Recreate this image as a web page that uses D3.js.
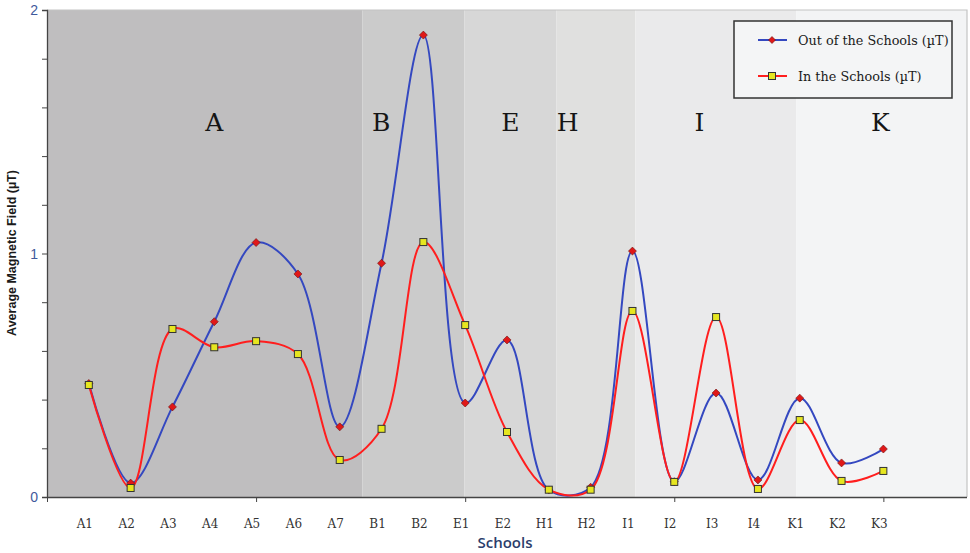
<!DOCTYPE html>
<html><head><meta charset="utf-8">
<script src="https://cdn.jsdelivr.net/npm/d3@7"></script>
<style>body{margin:0;background:#fff}svg{display:block}</style>
</head><body>
<svg id="c" width="970" height="553"></svg>
<script>
const categories = ["A1","A2","A3","A4","A5","A6","A7","B1","B2","E1","E2","H1","H2","I1","I2","I3","I4","K1","K2","K3"];
const outValues = [0.466,0.057,0.37,0.72,1.045,0.916,0.288,0.96,1.897,0.386,0.645,0.029,0.04,1.01,0.063,0.427,0.07,0.406,0.14,0.197];
const inValues  = [0.46,0.037,0.69,0.615,0.64,0.587,0.152,0.28,1.047,0.706,0.267,0.03,0.03,0.764,0.062,0.739,0.033,0.316,0.066,0.107];
const groupNames = ["A","B","E","H","I","K"];
const groupStart = [0,7.54,9.98,12.18,14.07,17.92];
const groupEnd   = [7.54,9.98,12.18,14.07,17.92,22];
const groupLabelPos = [4,7.99,11.08,12.45,15.6,19.93];
const groupColors = ["#bfbebf","#cbcbcb","#d7d7d7","#e0e0df","#eaeaeb","#f3f4f5"];
const seriesNames = ["Out of the Schools (µT)","In the Schools (µT)"];
const yTickLabels = [0,1,2];

const svg = d3.select("#c");
const L=47,R=967,T=10,B=497;
const x = d3.scaleLinear().domain([0,22]).range([L,R]);
const y = d3.scaleLinear().domain([0,2]).range([B,T]);

svg.selectAll("rect.band").data(groupNames).enter().append("rect")
  .attr("x",(d,i)=>x(groupStart[i])).attr("y",T)
  .attr("width",(d,i)=>x(groupEnd[i])-x(groupStart[i])).attr("height",B-T)
  .attr("fill",(d,i)=>groupColors[i]);
svg.append("path").attr("d",`M${L},${T}H${R}V${B}`).attr("fill","none").attr("stroke","#c4c4c4").attr("stroke-width",1.2);

svg.selectAll("text.grp").data(groupNames).enter().append("text")
  .attr("x",(d,i)=>x(groupLabelPos[i])).attr("y",131)
  .attr("text-anchor","middle").attr("font-family","'DejaVu Serif', serif").attr("font-size",25)
  .attr("fill","#151515").text(d=>d);

const yAxis = d3.axisLeft(y).tickValues(d3.range(0,2.01,0.2)).tickSize(5).tickFormat(d=>"");
const gy = svg.append("g").attr("transform",`translate(${L},0)`).call(yAxis);
gy.select(".domain").attr("stroke","#444").attr("stroke-width",1.3);
gy.selectAll(".tick line").attr("stroke","#444");
svg.selectAll("text.ytl").data(yTickLabels).enter().append("text")
  .attr("x",38).attr("y",d=>y(d)+5).attr("text-anchor","end")
  .attr("font-family","'Liberation Sans', Arial, sans-serif").attr("font-size",14)
  .attr("fill","#3f5a9c").text(d=>d);

const xAxis = d3.axisBottom(x).tickValues([0,5,10,15,20]).tickSize(5).tickFormat(d=>"");
const gx = svg.append("g").attr("transform",`translate(0,${B})`).call(xAxis);
gx.select(".domain").attr("stroke","#444").attr("stroke-width",1.3).attr("d",`M${L},0.5H${R}`);
gx.selectAll(".tick line").attr("stroke","#444");

svg.selectAll("text.cat").data(categories).enter().append("text")
  .attr("x",(d,i)=>x(i+1)-4).attr("y",528).attr("text-anchor","middle")
  .attr("font-family","'DejaVu Serif', serif").attr("font-size",12)
  .attr("fill","#333").text(d=>d);

svg.append("text").attr("x",505).attr("y",548).attr("text-anchor","middle")
  .attr("font-family","'Open Sans', sans-serif").attr("font-size",15).attr("font-weight",600)
  .attr("fill","#2b3d6b").text("Schools");
svg.append("text").attr("transform","translate(16,253) rotate(-90)").attr("text-anchor","middle")
  .attr("font-family","'Liberation Sans', Arial, sans-serif").attr("font-size",12.5).attr("font-weight","bold")
  .attr("fill","#1a1a1a").text("Average Magnetic Field (µT)");

const line = d3.line().x((d,i)=>x(i+1)).y(d=>y(d)).curve(d3.curveCatmullRom.alpha(0.5));
svg.append("path").datum(outValues).attr("d",line).attr("fill","none").attr("stroke","#3448c0").attr("stroke-width",2);
svg.append("path").datum(inValues).attr("d",line).attr("fill","none").attr("stroke","#ff1e1e").attr("stroke-width",2);

const dia = s => `M0,${-s}L${s},0L0,${s}L${-s},0Z`;
svg.selectAll("path.om").data(outValues).enter().append("path")
  .attr("d",dia(4)).attr("transform",(d,i)=>`translate(${x(i+1)},${y(d)})`)
  .attr("fill","#e01818").attr("stroke","#6a1010").attr("stroke-width",0.6);
svg.selectAll("rect.im").data(inValues).enter().append("rect")
  .attr("x",(d,i)=>x(i+1)-3.5).attr("y",d=>y(d)-3.5).attr("width",7).attr("height",7)
  .attr("fill","#e6e620").attr("stroke","#333").attr("stroke-width",1);

const lg = svg.append("g");
lg.append("rect").attr("x",734).attr("y",21).attr("width",218).attr("height",77)
  .attr("fill","#f4f5f6").attr("stroke","#333").attr("stroke-width",1.5);
const ly=[40,76];
lg.append("line").attr("x1",758).attr("x2",787).attr("y1",ly[0]).attr("y2",ly[0]).attr("stroke","#3448c0").attr("stroke-width",2);
lg.append("path").attr("d",dia(3.5)).attr("transform",`translate(772,${ly[0]})`).attr("fill","#e01818").attr("stroke","#6a1010").attr("stroke-width",0.6);
lg.append("line").attr("x1",758).attr("x2",787).attr("y1",ly[1]).attr("y2",ly[1]).attr("stroke","#ff1e1e").attr("stroke-width",2);
lg.append("rect").attr("x",768.5).attr("y",ly[1]-3.5).attr("width",7).attr("height",7).attr("fill","#e6e620").attr("stroke","#333");
lg.selectAll("text").data(seriesNames).enter().append("text")
  .attr("x",798).attr("y",(d,i)=>ly[i]+5).attr("font-family","'DejaVu Serif', serif").attr("font-size",12.8)
  .attr("fill","#1a1a1a").text(d=>d);
</script>
</body></html>
